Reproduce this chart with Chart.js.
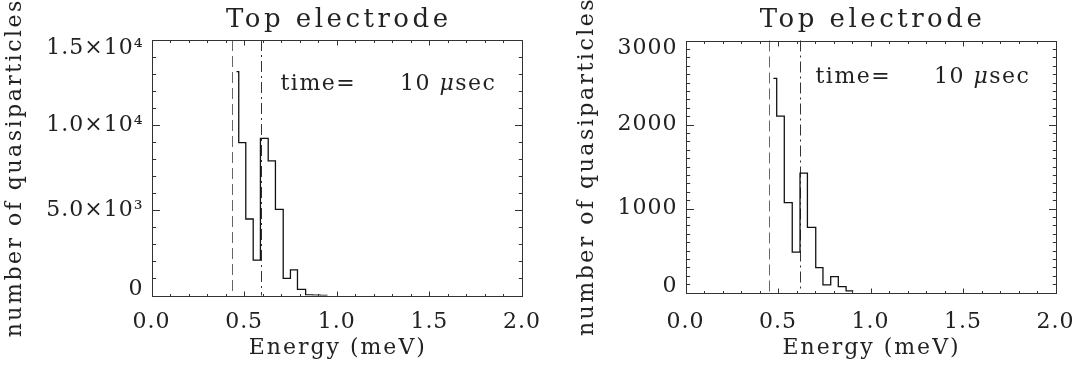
<!DOCTYPE html>
<html>
<head>
<meta charset="utf-8">
<script src="https://cdn.jsdelivr.net/npm/chart.js@4.4.1/dist/chart.umd.min.js"></script>
<style>
  html, body { margin: 0; padding: 0; background: #fff; }
  #wrap { position: relative; width: 1074px; height: 372px; overflow: hidden; }
  canvas { position: absolute; top: 0; }
</style>
</head>
<body>
<div id="wrap">
  <canvas id="left" width="560" height="372" style="left:0"></canvas>
  <canvas id="right" width="537" height="372" style="left:537px"></canvas>
</div>
<script>
// energy axis (meV), same for both panels
const xTicks = [0, 0.5, 1.0, 1.5, 2.0];
const xTickLabels = ['0.0', '0.5', '1.0', '1.5', '2.0'];
const xMinorStep = 0.1;

// left panel: bin edges (meV) and counts per bin
const leftEdges = [0.459, 0.471, 0.509, 0.549, 0.588, 0.630, 0.669, 0.711, 0.750, 0.788, 0.832, 0.871, 0.911, 0.950];
const leftCounts = [13140, 8970, 4490, 2080, 9230, 7900, 5060, 1000, 1500, 360, 40, 25, 10];
const leftYTicks = [0, 5000, 10000, 15000];
const leftYTickLabels = ['0', '5.0×10³', '1.0×10⁴', '1.5×10⁴'];
const leftYMinorStep = 1000;
const leftDashed = 0.432;
const leftDashDot = 0.589;

// right panel
const rightEdges = [0.475, 0.493, 0.534, 0.577, 0.619, 0.659, 0.704, 0.743, 0.785, 0.826, 0.868, 0.907];
const rightCounts = [2550, 2100, 1070, 480, 1420, 775, 295, 90, 190, 70, 20];
const rightYTicks = [0, 1000, 2000, 3000];
const rightYTickLabels = ['0', '1000', '2000', '3000'];
const rightYMinorStep = 100;
const rightDashed = 0.453;
const rightDashDot = 0.619;

const titleText = 'Top electrode';
const xTitle = 'Energy (meV)';
const yTitle = 'number of quasiparticles';
const timeLabel = 'time=';
const timeValue = '10';
const muSymbol = 'μ';
const timeUnit = 'sec';

const FONT = '"DejaVu Serif"';
const INK = '#222';

function stepPoints(edges, counts) {
  return edges.map((e, i) => ({ x: e, y: counts[Math.min(i, counts.length - 1)] }));
}

const idlFrame = {
  id: 'idlFrame',
  beforeLayout(chart) { chart.ctx.letterSpacing = '1px'; },
  beforeDraw(chart) { chart.ctx.letterSpacing = '1px'; },
  beforeDatasetsDraw(chart, args, o) {
    const { ctx, chartArea: a, scales: { x } } = chart;
    ctx.save();
    ctx.lineWidth = 1;
    [[o.dashed, [11, 5], '#666'], [o.dashDot, [11, 4, 2, 4], '#333']].forEach(([v, dash, col]) => {
      const px = Math.round(x.getPixelForValue(v)) + 0.5;
      ctx.strokeStyle = col;
      ctx.setLineDash(dash);
      ctx.beginPath();
      ctx.moveTo(px, a.top);
      ctx.lineTo(px, a.bottom);
      ctx.stroke();
    });
    ctx.restore();
  },
  afterDraw(chart, args, o) {
    const { ctx, chartArea: a, scales: { x, y } } = chart;
    const L = Math.round(a.left) + 0.5, R = Math.round(a.right) + 0.5;
    const T = Math.round(a.top) + 0.5, B = Math.round(a.bottom) + 0.5;
    ctx.save();
    ctx.letterSpacing = '0px';
    ctx.strokeStyle = '#333';
    ctx.lineWidth = 1;
    ctx.strokeRect(L, T, R - L, B - T);

    // inward ticks on all four sides
    ctx.beginPath();
    const nx = Math.round((x.max - x.min) / xMinorStep);
    for (let i = 0; i <= nx; i++) {
      const v = x.min + i * xMinorStep;
      const px = Math.round(x.getPixelForValue(v)) + 0.5;
      const len = i % 5 === 0 ? 5 : 2.5;
      ctx.moveTo(px, B); ctx.lineTo(px, B - len);
      ctx.moveTo(px, T); ctx.lineTo(px, T + len);
    }
    const ny = Math.round((y.max - y.min) / o.yMinor);
    const per = Math.round(o.yMajor / o.yMinor);
    for (let i = 0; i <= ny; i++) {
      const v = y.min + i * o.yMinor;
      const py = Math.round(y.getPixelForValue(v)) + 0.5;
      const len = i % per === 0 ? 7.5 : 3.7;
      ctx.moveTo(L, py); ctx.lineTo(L + len, py);
      ctx.moveTo(R, py); ctx.lineTo(R - len, py);
    }
    ctx.stroke();

    ctx.fillStyle = INK;
    const cx = (a.left + a.right) / 2;
    // title
    ctx.font = '26px ' + FONT;
    ctx.letterSpacing = '3.5px';
    ctx.textAlign = 'center';
    ctx.textBaseline = 'alphabetic';
    ctx.fillText(titleText, cx + 2, 27);
    // x title
    ctx.font = '22px ' + FONT;
    ctx.letterSpacing = '2px';
    ctx.fillText(xTitle, cx + 1, 354);
    // y title
    ctx.save();
    ctx.translate(o.yTitleX, (a.top + a.bottom) / 2);
    ctx.rotate(-Math.PI / 2);
    ctx.letterSpacing = '2.5px';
    ctx.textBaseline = 'middle';
    ctx.fillText(yTitle, 0, 0);
    ctx.restore();
    // time annotation
    ctx.letterSpacing = '1.5px';
    ctx.textAlign = 'left';
    ctx.textBaseline = 'middle';
    const ty = a.top + o.timeDy;
    ctx.fillText(timeLabel, a.left + o.timeDx1, ty);
    let tx = a.left + o.timeDx2;
    ctx.fillText(timeValue, tx, ty);
    tx += ctx.measureText(timeValue + ' ').width;
    ctx.font = 'italic 22px ' + FONT;
    ctx.fillText(muSymbol, tx, ty);
    tx += ctx.measureText(muSymbol).width;
    ctx.font = '22px ' + FONT;
    ctx.fillText(timeUnit, tx, ty);
    ctx.restore();
  }
};

function makePanel(id, width, edges, counts, yTicks, yLabels, yMinor, dashed, dashDot, box, extra) {
  const last = yTicks.length - 1;
  return new Chart(document.getElementById(id), {
    type: 'line',
    data: {
      datasets: [{
        data: stepPoints(edges, counts),
        stepped: 'before',
        borderColor: '#111',
        borderWidth: 1.3,
        pointRadius: 0,
        fill: false,
      }],
    },
    options: {
      responsive: false,
      animation: false,
      devicePixelRatio: 1,
      layout: { padding: { top: box.top, right: width - box.right, left: 0, bottom: 0 } },
      plugins: {
        legend: { display: false },
        tooltip: { enabled: false },
        idlFrame: Object.assign({ dashed, dashDot, yMinor, yMajor: yTicks[1] - yTicks[0] }, extra),
      },
      scales: {
        x: {
          type: 'linear',
          min: 0,
          max: 2,
          afterBuildTicks: s => { s.ticks = xTicks.map(v => ({ value: v })); },
          afterFit: s => { s.height = 372 - box.bottom; s.paddingLeft = 0; s.paddingRight = 0; },
          ticks: {
            autoSkip: false,
            maxRotation: 0,
            padding: extra.xPad,
            color: INK,
            font: { family: 'DejaVu Serif', size: 22 },
            callback: v => xTickLabels[xTicks.indexOf(v)],
          },
          grid: { display: false, drawTicks: false },
          border: { display: false },
        },
        y: {
          type: 'linear',
          min: yTicks[0],
          max: yTicks[last],
          afterBuildTicks: s => { s.ticks = yTicks.map(v => ({ value: v })); },
          afterFit: s => { s.width = box.left; s.paddingTop = 0; s.paddingBottom = 0; },
          ticks: {
            autoSkip: false,
            padding: 8,
            color: INK,
            // end labels sit inside the frame, as in the original plot
            font: c => ({
              family: 'DejaVu Serif',
              size: 22,
              lineHeight: c.index === last ? 0.75 : c.index === 0 ? 0.55 : 1.2,
            }),
            callback: (v, i) => {
              const s = yLabels[yTicks.indexOf(v)];
              if (i === last) return ['', s];
              if (i === 0) return [s, ''];
              return s;
            },
          },
          grid: { display: false, drawTicks: false },
          border: { display: false },
        },
      },
    },
    plugins: [idlFrame],
  });
}

makePanel('left', 560, leftEdges, leftCounts, leftYTicks, leftYTickLabels, leftYMinorStep, leftDashed, leftDashDot,
  { left: 151.5, right: 522, top: 40, bottom: 295.5 },
  { yTitleX: 15, timeDx1: 129, timeDx2: 248.5, timeDy: 44, xPad: 14 });

makePanel('right', 537, rightEdges, rightCounts, rightYTicks, rightYTickLabels, rightYMinorStep, rightDashed, rightDashDot,
  { left: 148.5, right: 518.5, top: 40.5, bottom: 292.5 },
  { yTitleX: 50, timeDx1: 130, timeDx2: 248.5, timeDy: 37, xPad: 17 });
</script>
</body>
</html>
